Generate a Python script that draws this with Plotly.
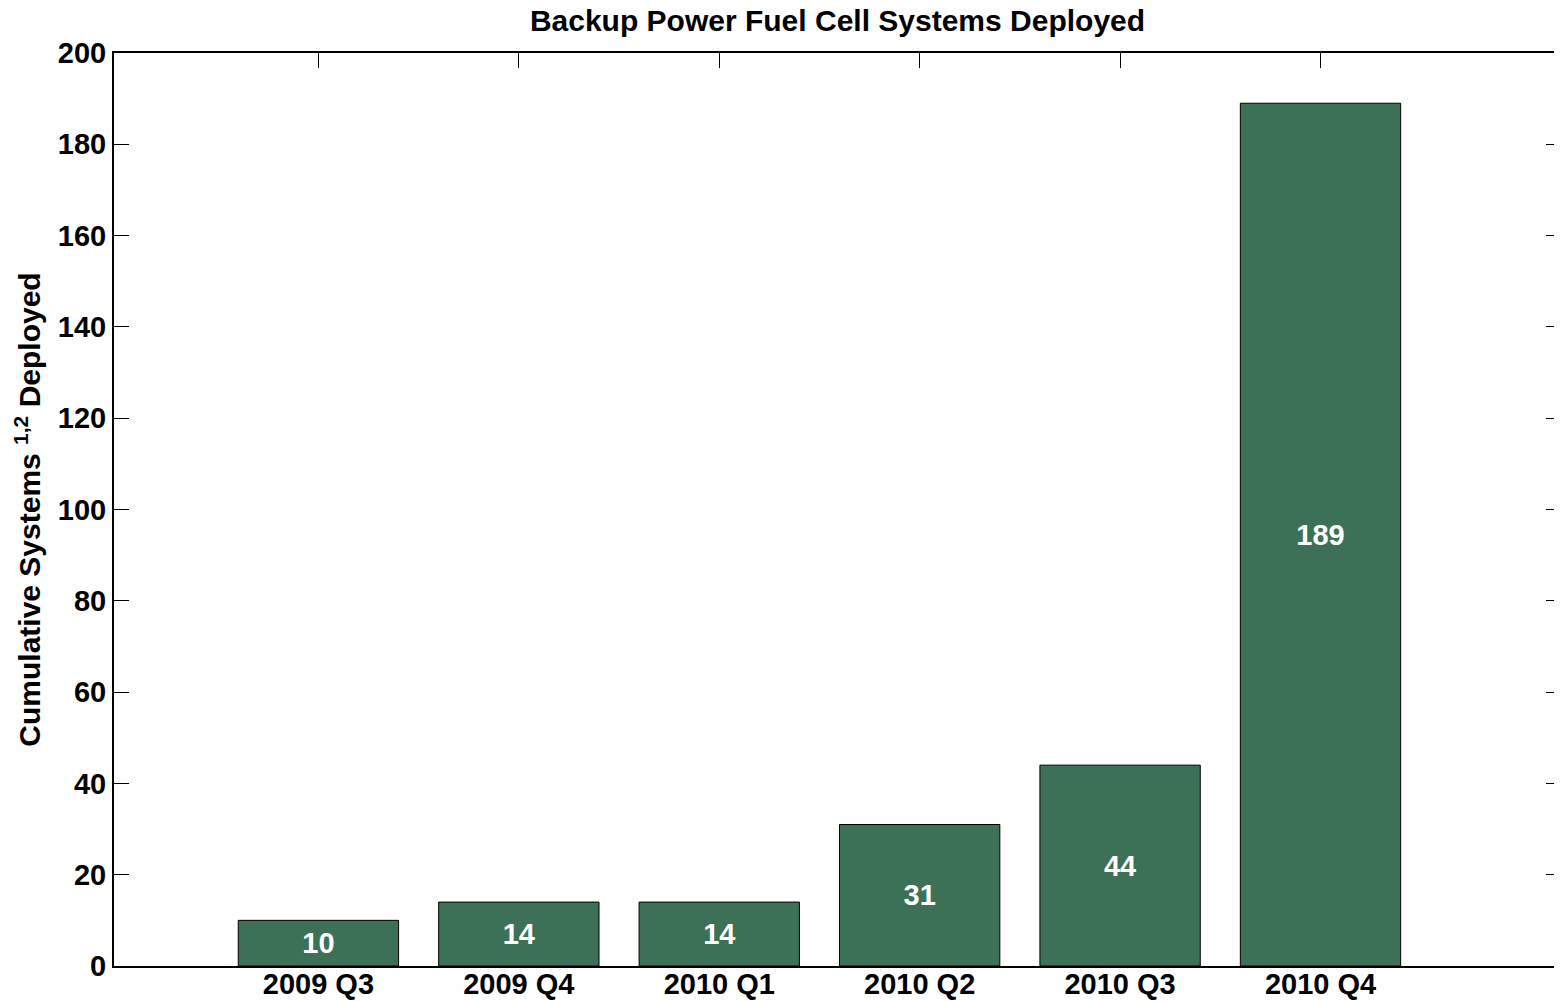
import plotly.graph_objects as go

quarters = ['2009 Q3', '2009 Q4', '2010 Q1', '2010 Q2', '2010 Q3', '2010 Q4']
systems = [10, 14, 14, 31, 44, 189]

BAR_COLOR = '#3C7157'
FONT = 'Liberation Sans, Arial, sans-serif'
TICK_SIZE = 29
TITLE_SIZE = 30

# page body has an 8px margin, so the figure is a bit smaller than the window
W, H = 1554, 993

fig = go.Figure()
fig.add_trace(
    go.Bar(
        x=quarters,
        y=systems,
        width=0.8,
        marker={'color': BAR_COLOR, 'line': {'color': 'black', 'width': 1}},
        texttemplate='%{y}',
        textposition='inside',
        insidetextanchor='middle',
        textangle=0,
        textfont={'family': FONT, 'size': TICK_SIZE, 'color': 'white', 'weight': 'bold'},
        showlegend=False
    )
)

fig.update_layout(
    width=W,
    height=H,
    margin={'l': 106, 'r': 1, 't': 45, 'b': 35},
    plot_bgcolor='white',
    paper_bgcolor='white',
    font={'family': FONT, 'size': TICK_SIZE, 'color': 'black'},
    title={
        'text': 'Backup Power Fuel Cell Systems Deployed',
        'x': 0.5, 'xref': 'paper', 'xanchor': 'center',
        'y': 1 - 12 / H, 'yref': 'container', 'yanchor': 'middle',
        'font': {'family': FONT, 'size': TITLE_SIZE, 'weight': 'bold', 'color': 'black'}
    }
)

fig.update_xaxes(
    type='category',
    range=[-1.02, 6.2],
    automargin=False,
    showline=True, linecolor='black', linewidth=2,
    mirror='ticks',
    ticks='inside', ticklen=15, tickcolor='black', tickwidth=1,
    ticklabelstandoff=-9,
    tickfont={'family': FONT, 'size': TICK_SIZE, 'weight': 'bold'},
    showgrid=False,
    layer='below traces'
)
fig.update_yaxes(
    range=[0, 200],
    dtick=20,
    automargin=False,
    showline=True, linecolor='black', linewidth=2,
    mirror='ticks',
    ticks='inside', ticklen=15, tickcolor='black', tickwidth=1,
    tickfont={'family': FONT, 'size': TICK_SIZE, 'weight': 'bold'},
    showgrid=False,
    zeroline=False,
    title={
        'text': 'Cumulative Systems <sup>1,2</sup> Deployed',
        'font': {'family': FONT, 'size': TITLE_SIZE, 'weight': 'bold'},
        'standoff': 8
    }
)

fig.write_html('out.html')
